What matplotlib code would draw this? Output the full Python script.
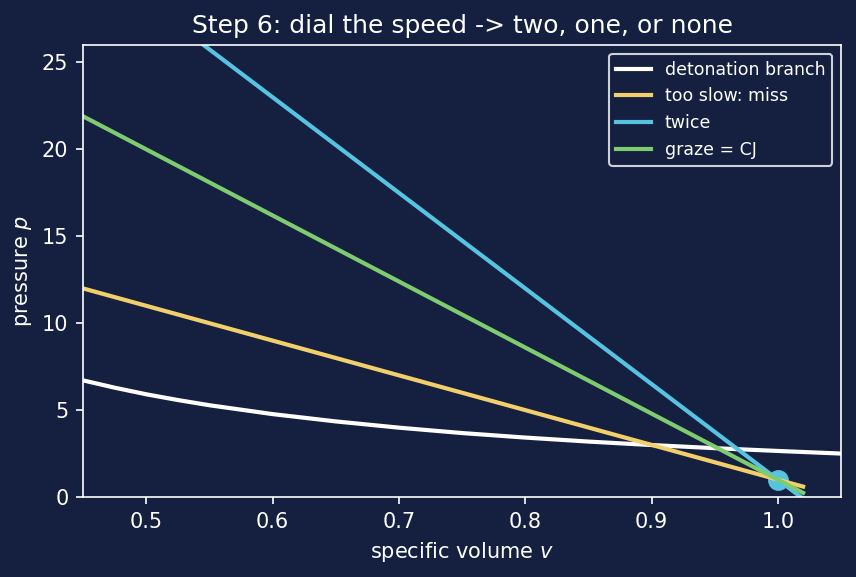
import numpy as np
import matplotlib
matplotlib.use("Agg")
import matplotlib.pyplot as plt

# Hugoniot (detonation branch)
v_hug = [0.45, 0.475, 0.50, 0.525, 0.55, 0.60, 0.65, 0.70, 0.75, 0.80, 0.85, 0.90, 0.95, 1.00, 1.05]
p_hug = [6.71, 6.29, 5.91, 5.58, 5.28, 4.77, 4.35, 3.99, 3.68, 3.42, 3.19, 2.99, 2.81, 2.65, 2.50]

# Rayleigh lines through the initial state (1, 1)
v_ray = [0.45, 1.02]
p_slow = [12.0, 0.60]
p_twice = [31.25, -0.10]
p_graze = [21.9, 0.24]

bg = "#152040"
fg = "white"

fig = plt.figure(figsize=(856 / 150, 577 / 150), dpi=150, facecolor=bg)
ax = fig.add_axes([0.097, 0.1386, 0.8855, 0.7834], facecolor=bg)

ax.plot([1.0], [1.0], "o", color="#56c3e0", markersize=9, zorder=1)
ax.plot(v_hug, p_hug, color="white", lw=2, label="detonation branch", zorder=2)
ax.plot(v_ray, p_slow, color="#f3cf6c", lw=2, label="too slow: miss", zorder=2)
ax.plot(v_ray, p_twice, color="#56c3e0", lw=2, label="twice", zorder=2)
ax.plot(v_ray, p_graze, color="#7fcc70", lw=2, label="graze = CJ", zorder=2)

ax.set_xlim(0.45, 1.05)
ax.set_ylim(0, 26)
ax.set_xticks([0.5, 0.6, 0.7, 0.8, 0.9, 1.0])
ax.set_yticks([0, 5, 10, 15, 20, 25])

for s in ax.spines.values():
    s.set_color(fg)
ax.tick_params(colors=fg, labelsize=10)

ax.set_xlabel("specific volume $v$", color=fg, fontsize=10)
ax.set_ylabel("pressure $p$", color=fg, fontsize=10)
ax.set_title("Step 6: dial the speed -> two, one, or none", color=fg, fontsize=12)

leg = ax.legend(loc="upper right", fontsize=8.33, facecolor=bg, edgecolor=fg)
for t in leg.get_texts():
    t.set_color(fg)

fig.savefig("out.png", dpi=150, facecolor=bg)
